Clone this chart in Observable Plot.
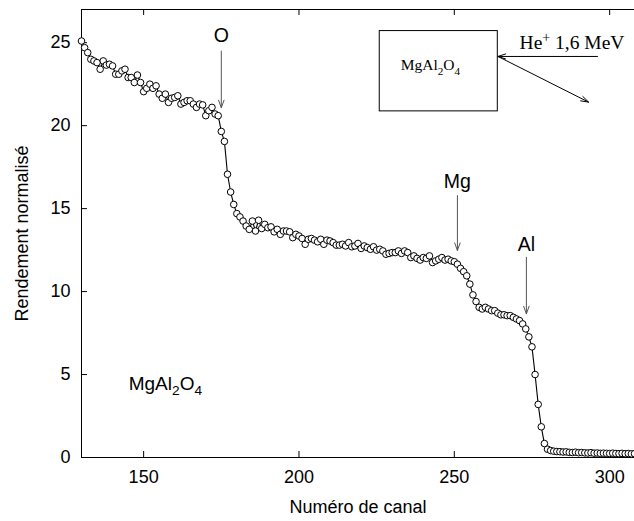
<!DOCTYPE html>
<html><head><meta charset="utf-8">
<script src="https://cdn.jsdelivr.net/npm/d3@7"></script>
<script src="https://cdn.jsdelivr.net/npm/@observablehq/plot@0.6"></script>
<style>body{margin:0;background:#fff;}</style>
</head><body><div id="chart"></div>
<script>
// ---- data ----
const firstChannel = 130;
const yieldValues = [
  25.1, 24.7, 24.4, 24.0, 23.9, 23.8, 23.4, 23.9, 23.65, 23.7,
  23.6, 23.1, 23.1, 23.3, 23.4, 22.9, 22.9, 22.6, 23.05, 22.6,
  22.05, 22.25, 22.5, 22.25, 22.4, 21.9, 21.65, 21.9, 21.4, 21.65,
  21.7, 21.8, 21.3, 21.4, 21.5, 21.5, 21.3, 21.1, 21.3, 21.25,
  20.6, 20.9, 21.1, 20.7, 20.6,
  19.65, 19.05, 17.07, 16.0, 15.25, 14.7, 14.5, 14.25, 13.95, 13.75,
  14.25, 13.65, 14.3, 13.8, 14.05, 13.85, 13.9, 13.6, 13.75, 13.45,
  13.65, 13.65, 13.6, 13.25, 13.45, 13.35, 13.2, 12.85, 13.15,
  13.2, 13.1, 13.0, 13.15, 12.85, 13.1, 13.05, 12.95, 12.8, 12.8,
  12.85, 12.75, 12.95, 12.7, 12.75, 12.9, 12.6, 12.75, 12.65, 12.55,
  12.7, 12.5, 12.55,
  12.45, 12.25, 12.3, 12.35, 12.35, 12.45, 12.3, 12.45, 12.35, 12.05,
  12.15, 12.0, 11.9, 12.05, 12.0, 12.15, 11.75, 11.85, 11.95, 12.05,
  11.9, 11.95, 11.85, 11.8,
  11.65, 11.4, 11.2, 10.95, 10.45, 9.8, 9.4, 9.05, 8.95, 9.05,
  8.95, 8.85, 8.85, 8.7, 8.6, 8.6, 8.55, 8.55, 8.45, 8.35,
  8.25, 8.05, 7.75, 7.27, 6.67, 5.0, 3.2, 1.85, 0.84, 0.5,
  0.42, 0.38, 0.36, 0.35, 0.33, 0.34, 0.31, 0.3, 0.32, 0.29,
  0.3, 0.28, 0.27, 0.29, 0.26, 0.27, 0.25, 0.26, 0.25, 0.24,
  0.26, 0.24, 0.23, 0.25, 0.23, 0.24, 0.22, 0.23
];
const xDomain = [130, 308];
const yDomain = [0, 27];
const xTicks = [150, 200, 250, 300];
const yTicks = [0, 5, 10, 15, 20, 25];
const xTitle = "Numéro de canal";
const yTitle = "Rendement normalisé";

// element edges marked by arrows
const peakLabels = ["O", "Mg", "Al"];
const peakChannels = [175, 251, 273.2];
const peakArrowTop = [24.49, 15.79, 12.07];
const peakArrowTip = [21.08, 12.48, 8.66];
const peakLabelY = [25.40, 16.62, 12.85];

// sample label (bottom left)
const sampleLabel = ["MgAl2O4"];
const sampleLabelPos = [145.2, 4.46];

// inset schematic (in chart units)
const insetBox = {x1: 226.0, x2: 264.0, y1: 20.86, y2: 25.70};
const insetBoxLabel = ["MgAl2O4"];
const insetBoxLabelPos = [242.3, 23.63];
const beamLabel = ["He+ 1,6 MeV"];
const beamLabelPos = [271.0, 24.62];
const beamX1 = [296.1, 264.05];
const beamY1 = [24.17, 24.17];
const beamX2 = [264.05, 293.2];
const beamY2 = [24.17, 21.42];

// ---- build ----
const rows = yieldValues.map((v, i) => ({channel: firstChannel + i, value: v}));
const W = 634, H = 521, mL = 81, mR = 0, mT = 9, mB = 64;
const innerW = W - mL - mR, innerH = H - mT - mB;
const sans = "'Liberation Sans', Arial, Helvetica, sans-serif";
const serif = "'Liberation Serif', 'Times New Roman', serif";
const peakIdx = peakLabels.map((d, i) => i);

const chart = Plot.plot({
  width: W, height: H,
  marginLeft: mL, marginRight: mR, marginTop: mT, marginBottom: mB,
  style: {fontFamily: sans, fontSize: "18px", background: "white", overflow: "hidden", color: "black"},
  x: {domain: xDomain},
  y: {domain: yDomain},
  marks: [
    Plot.frame({stroke: "black", strokeWidth: 1}),
    Plot.tickX(xTicks, {x: d => d, insetTop: innerH - 6, stroke: "black"}),
    Plot.tickX(xTicks, {x: d => d, insetBottom: innerH - 6, stroke: "black"}),
    Plot.tickY(yTicks.slice(1), {y: d => d, insetRight: innerW - 6, stroke: "black"}),
    Plot.axisX({ticks: xTicks, tickSize: 0, tickPadding: 13, fontSize: 18, label: null}),
    Plot.axisY({ticks: yTicks, tickSize: 0, tickPadding: 11, fontSize: 18, label: null}),
    Plot.text([xTitle], {text: d => d, frameAnchor: "bottom", dy: 50, lineAnchor: "middle", textAnchor: "middle", fontSize: 18}),
    Plot.text([yTitle], {text: d => d, frameAnchor: "left", dx: -59, rotate: -90, textAnchor: "middle", lineAnchor: "middle", fontSize: 18}),
    Plot.line(rows, {x: "channel", y: "value", stroke: "black", strokeWidth: 1.1}),
    Plot.dot(rows, {x: "channel", y: "value", r: 3.3, fill: "white", stroke: "black", strokeWidth: 1}),
    Plot.arrow(peakIdx, {x1: i => peakChannels[i], y1: i => peakArrowTop[i], x2: i => peakChannels[i], y2: i => peakArrowTip[i], stroke: "#555", strokeWidth: 1, headLength: 12, headAngle: 40}),
    Plot.text(peakIdx, {x: i => peakChannels[i], y: i => peakLabelY[i], text: i => peakLabels[i], fontSize: 19.5}),
    Plot.text(sampleLabel, {x: () => sampleLabelPos[0], y: () => sampleLabelPos[1], text: d => d, textAnchor: "start", fontSize: 19, className: "chem"}),
    Plot.rect([insetBox], {x1: "x1", x2: "x2", y1: "y1", y2: "y2", fill: "none", stroke: "black", strokeWidth: 1}),
    Plot.text(insetBoxLabel, {x: () => insetBoxLabelPos[0], y: () => insetBoxLabelPos[1], text: d => d, fontFamily: serif, fontSize: 15.5, className: "chem"}),
    Plot.text(beamLabel, {x: () => beamLabelPos[0], y: () => beamLabelPos[1], text: d => d, textAnchor: "start", lineAnchor: "bottom", fontFamily: serif, fontSize: 19.5, className: "ion"}),
    Plot.arrow([0, 1], {x1: i => beamX1[i], y1: i => beamY1[i], x2: i => beamX2[i], y2: i => beamY2[i], stroke: "black", strokeWidth: 1, headLength: 12, headAngle: 36})
  ]
});
document.getElementById("chart").appendChild(chart);

// sub/superscripts as real text tspans
function richText(t, parts) {
  const fs = parseFloat(t.getAttribute("font-size") || t.parentNode.getAttribute("font-size") || 18);
  while (t.firstChild) t.removeChild(t.firstChild);
  let shift = 0;
  for (const [str, kind] of parts) {
    const ts = document.createElementNS("http://www.w3.org/2000/svg", "tspan");
    ts.textContent = str;
    let target = kind === "sub" ? fs * 0.28 : kind === "sup" ? -fs * 0.38 : 0;
    if (target - shift !== 0) ts.setAttribute("dy", target - shift);
    shift = target;
    if (kind) ts.setAttribute("font-size", fs * 0.72);
    t.appendChild(ts);
  }
}
chart.querySelectorAll("g.chem text").forEach(t => {
  const s = t.textContent;
  const parts = s.split(/(\d)/).filter(p => p !== "").map(p => [p, /\d/.test(p) ? "sub" : null]);
  richText(t, parts);
});
chart.querySelectorAll("g.ion text").forEach(t => {
  const s = t.textContent;
  const m = s.match(/^(He)(\+)(.*)$/);
  if (m) richText(t, [[m[1], null], [m[2], "sup"], [m[3], null]]);
});
</script>
</body></html>
